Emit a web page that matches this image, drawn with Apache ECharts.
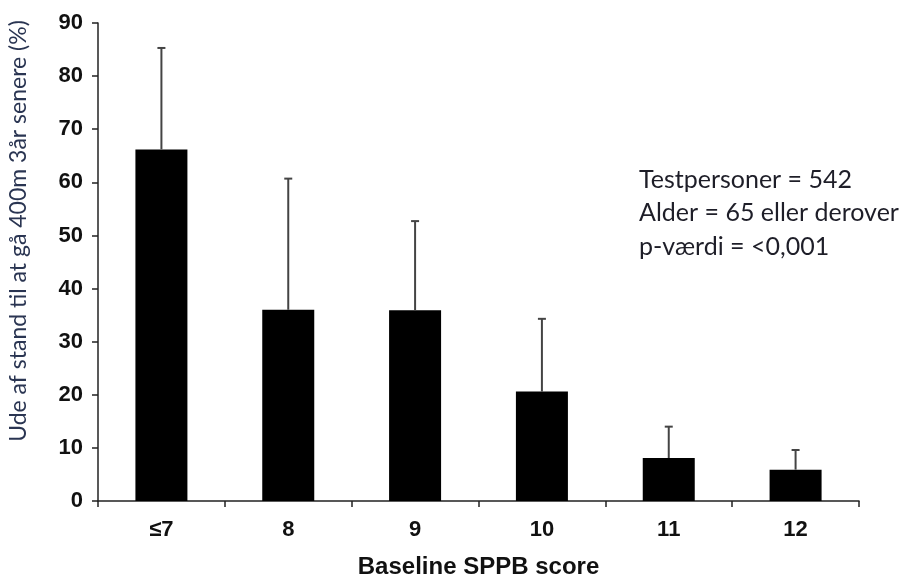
<!DOCTYPE html>
<html>
<head>
<meta charset="utf-8">
<script src="https://cdn.jsdelivr.net/npm/echarts@6/dist/echarts.min.js"></script>
<style>
  html, body { margin: 0; padding: 0; background: #fff; }
  #chart { width: 905px; height: 580px; }
</style>
</head>
<body>
<div id="chart"></div>
<script>
var categories = ['≤7', '8', '9', '10', '11', '12'];
var values = [66.2, 36.0, 35.9, 20.6, 8.1, 5.9];
var upper = [85.3, 60.7, 52.7, 34.3, 14.0, 9.6];
var yTicks = { min: 0, max: 90, interval: 10 };
var notes = ['Testpersoner = 542', 'Alder = 65 eller derover', 'p-værdi = <0,001'];

var chart = echarts.init(document.getElementById('chart'));

var errData = [];
for (var i = 0; i < categories.length; i++) {
    errData.push([i, values[i], upper[i]]);
}

var option = {
    animation: false,
    grid: { left: 98, right: 46, top: 23, bottom: 79, outerBoundsMode: 'none', containLabel: false },
    xAxis: {
        type: 'category',
        data: categories,
        name: 'Baseline SPPB score',
        nameLocation: 'middle',
        nameGap: 54,
        nameTextStyle: { fontFamily: 'Liberation Sans', fontWeight: 'bold', fontSize: 24, color: '#111' },
        axisLine: { lineStyle: { color: '#222', width: 1.5 } },
        axisTick: { show: true, length: 6, interval: 0, lineStyle: { color: '#222', width: 1.5 } },
        axisLabel: { fontFamily: 'Liberation Sans', fontWeight: 'bold', fontSize: 22, color: '#111', margin: 18 }
    },
    yAxis: {
        type: 'value',
        min: yTicks.min,
        max: yTicks.max,
        interval: yTicks.interval,
        name: 'Ude af stand til at gå 400m 3år senere (%)',
        nameLocation: 'middle',
        nameGap: 68,
        nameTextStyle: { fontFamily: 'Lato', fontSize: 23, color: '#2a3552', padding: [0, 0, 0, 62] },
        splitLine: { show: false },
        axisLine: { show: true, lineStyle: { color: '#222', width: 1.5 } },
        axisTick: { show: true, length: 6, lineStyle: { color: '#222', width: 1.5 } },
        axisLabel: { fontFamily: 'Liberation Sans', fontWeight: 'bold', fontSize: 22, color: '#111', margin: 15 }
    },
    series: [
        {
            type: 'bar',
            data: values,
            barWidth: 52,
            itemStyle: { color: '#000' }
        },
        {
            type: 'custom',
            data: errData,
            z: 3,
            renderItem: function (params, api) {
                var x = api.value(0);
                var base = api.coord([x, api.value(1)]);
                var top = api.coord([x, api.value(2)]);
                var style = { stroke: '#444', lineWidth: 2 };
                return {
                    type: 'group',
                    children: [
                        { type: 'line', shape: { x1: base[0], y1: base[1], x2: top[0], y2: top[1] }, style: style },
                        { type: 'line', shape: { x1: top[0] - 4, y1: top[1], x2: top[0] + 4, y2: top[1] }, style: style }
                    ]
                };
            }
        }
    ],
    graphic: [
        {
            type: 'text',
            left: 639,
            top: 163,
            style: {
                text: notes.join('\n'),
                fontFamily: 'Lato',
                fontSize: 25,
                lineHeight: 33.5,
                fill: '#1e1e28'
            }
        }
    ]
};
chart.setOption(option);
</script>
</body>
</html>
